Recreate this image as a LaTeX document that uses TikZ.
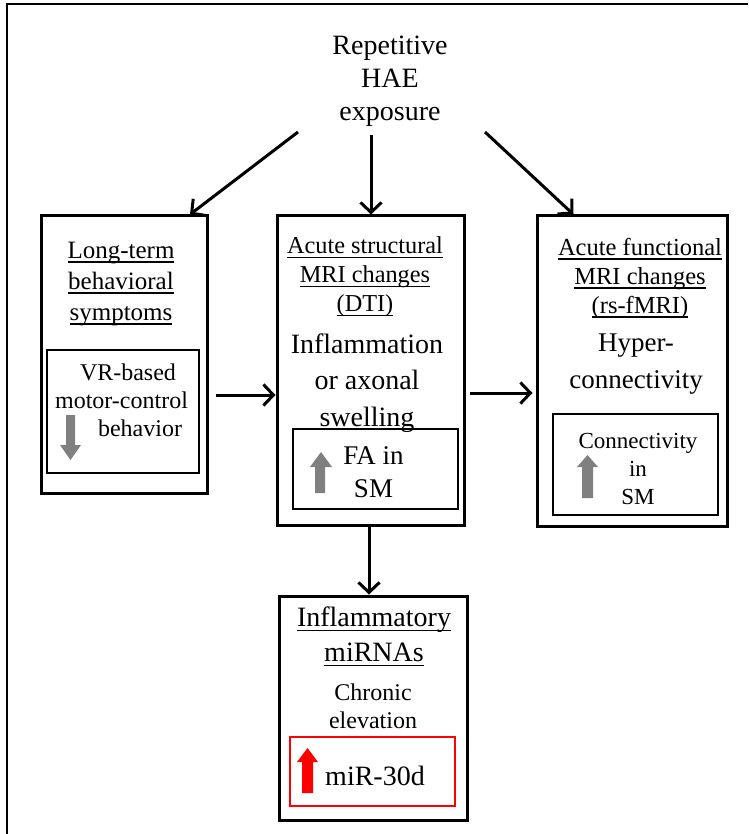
\documentclass[tikz,border=0pt]{standalone}
\usepackage{fontspec}
\setmainfont{Liberation Serif}
\usetikzlibrary{arrows.meta}
\newcommand\ulx[1]{\setbox0\hbox{#1}\rlap{\rule[-4.5pt]{\wd0}{1.5pt}}\box0}
\begin{document}
\begin{tikzpicture}[x=1pt,y=-1pt,
  box/.style={draw, line width=3pt, inner sep=0pt},
  ibox/.style={draw, line width=2pt, inner sep=0pt},
  arr/.style={line width=3pt, -{Straight Barb[length=10pt,width=21pt]}},
  txt/.style={align=center, inner sep=0pt},
  garrow/.style={fill={rgb,255:red,128;green,128;blue,128}}]
\useasboundingbox (0,0) rectangle (748,834);
% outer frame
\draw[line width=2.5pt] (7,834) -- (7,4) -- (748,4);

% boxes
\node[box, minimum width=166pt, minimum height=277pt] (L) at (124.5,354.5) {};
\node[ibox, minimum width=152pt, minimum height=123pt] (Li) at (123,411.5) {};
\node[box, minimum width=187pt, minimum height=309pt] (C) at (370.5,370.5) {};
\node[ibox, minimum width=165pt, minimum height=80pt] (Ci) at (375.5,469) {};
\node[box, minimum width=190pt, minimum height=310pt] (R) at (632,371) {};
\node[ibox, minimum width=165pt, minimum height=101pt] (Ri) at (635.5,464.5) {};
\node[box, minimum width=188pt, minimum height=224pt] (B) at (373,708) {};
\node[draw=red, line width=1.5pt, inner sep=0pt, minimum width=165pt, minimum height=69pt] (Bi) at (372.5,771.5) {};

% texts
\node[txt, font=\fontsize{28}{33}\selectfont] (top) at (390,81) {Repetitive\\HAE\\exposure};
\node[txt, font=\fontsize{25}{31}\selectfont] (Lh) at (121,284) {\ulx{Long-term}\\\ulx{behavioral}\\\ulx{symptoms}};
\node[txt, font=\fontsize{24}{28}\selectfont] (Lt) at (121.5,400) {\hspace*{13pt}VR-based\\motor-control\\\hspace*{37pt}behavior};
\node[txt, font=\fontsize{24.3}{29}\selectfont] (Ch) at (365,277) {\ulx{Acute structural}\\\ulx{MRI changes}\\\ulx{(DTI)}};
\node[txt, font=\fontsize{28}{36.5}\selectfont] (Ct) at (367,383) {Inflammation\\or axonal\\swelling};
\node[txt, font=\fontsize{27}{33}\selectfont] (Cit) at (373.5,472) {FA in\\SM};
\node[txt, font=\fontsize{24.5}{29}\selectfont] (Rh) at (640,278) {\ulx{Acute functional}\\\ulx{MRI changes}\\\ulx{(rs-fMRI)}};
\node[txt, font=\fontsize{27}{37}\selectfont] (Rt) at (636,364) {Hyper-\\connectivity};
\node[txt, font=\fontsize{23}{28}\selectfont] (Rit) at (638,468.5) {Connectivity\\in\\SM};
\node[txt, font=\fontsize{28}{35}\selectfont] (Bh) at (374,636.5) {\ulx{Inflammatory}\\\ulx{miRNAs}};
\node[txt, font=\fontsize{24}{28}\selectfont] (Bt) at (373,706) {Chronic\\elevation};
\node[txt, font=\fontsize{28}{33}\selectfont] (Bit) at (375,776) {miR-30d};

% indicator arrows
\fill[garrow] (66,415) -- (75,415) -- (75,445) -- (81,445) -- (70.5,460) -- (60,445) -- (66,445) -- cycle;
\fill[garrow] (315,493) -- (325,493) -- (325,467) -- (332,467) -- (321,452) -- (310,467) -- (315,467) -- cycle;
\fill[garrow] (582,498) -- (593,498) -- (593,467) -- (598,467) -- (587.5,455) -- (577,467) -- (582,467) -- cycle;
\fill[red] (302,793) -- (313,793) -- (313,762) -- (318,762) -- (307.5,748) -- (297,762) -- (302,762) -- cycle;

% connectors
\coordinate (t1) at (298,132);
\coordinate (t2) at (371,135);
\coordinate (t3) at (485,132);
\draw[arr] (t1) -- ([xshift=-19pt]L.north east);
\draw[arr] (t2) -- (t2 |- C.north);
\draw[arr] (t3) -- ([xshift=38pt]R.north west);
\coordinate (lc) at (216,395);
\draw[arr] (lc) -- (lc -| C.west);
\coordinate (cr) at (470,393);
\draw[arr, shorten >=3pt] (cr) -- (cr -| R.west);
\coordinate (cb) at (369,527);
\draw[arr] (cb) -- (cb |- B.north);
\end{tikzpicture}
\end{document}
